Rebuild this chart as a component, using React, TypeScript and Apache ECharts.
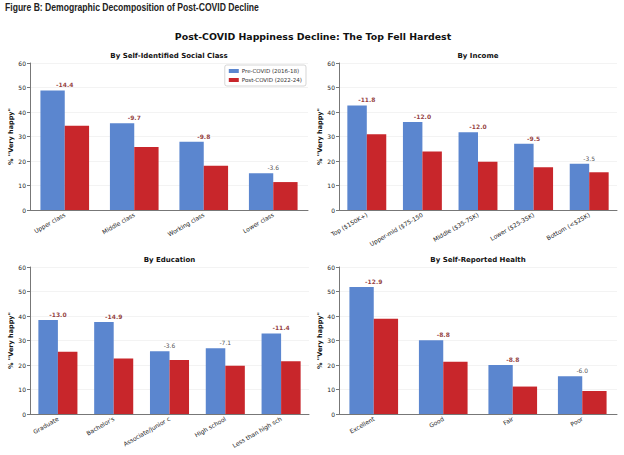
import React, { useEffect, useRef } from "react";
import * as echarts from "echarts";

const classCats = ["Upper class", "Middle class", "Working class", "Lower class"];
const classPre = [48.8, 35.4, 27.9, 15.0];
const classPost = [34.4, 25.7, 18.1, 11.4];
const classDiff = [-14.4, -9.7, -9.8, -3.6];

const incomeCats = ["Top ($150K+)", "Upper-mid ($75-150", "Middle ($35-75K)", "Lower ($25-35K)", "Bottom (<$25K)"];
const incomePre = [42.7, 35.9, 31.7, 27.0, 18.9];
const incomePost = [30.9, 23.9, 19.7, 17.5, 15.4];
const incomeDiff = [-11.8, -12.0, -12.0, -9.5, -3.5];

const eduCats = ["Graduate", "Bachelor's", "Associate/junior c", "High school", "Less than high sch"];
const eduPre = [38.4, 37.6, 25.6, 26.8, 32.9];
const eduPost = [25.4, 22.7, 22.0, 19.7, 21.5];
const eduDiff = [-13.0, -14.9, -3.6, -7.1, -11.4];

const healthCats = ["Excellent", "Good", "Fair", "Poor"];
const healthPre = [51.8, 30.1, 20.0, 15.4];
const healthPost = [38.9, 21.3, 11.2, 9.4];
const healthDiff = [-12.9, -8.8, -8.8, -6.0];

const yTicks = [0, 10, 20, 30, 40, 50, 60];

const PRE = "Pre-COVID (2016-18)";
const POST = "Post-COVID (2022-24)";
const BLUE = "#5B86CF";
const RED = "#C8262B";
const FONT = "DejaVu Sans";

const panels = [
  { title: "By Self-Identified Social Class", cats: classCats, pre: classPre, post: classPost, diff: classDiff, grid: { left: 30, top: 63, width: 278, height: 147 } },
  { title: "By Income", cats: incomeCats, pre: incomePre, post: incomePost, diff: incomeDiff, grid: { left: 339, top: 63, width: 278, height: 147 } },
  { title: "By Education", cats: eduCats, pre: eduPre, post: eduPost, diff: eduDiff, grid: { left: 30, top: 267, width: 279, height: 147 } },
  { title: "By Self-Reported Health", cats: healthCats, pre: healthPre, post: healthPost, diff: healthDiff, grid: { left: 339, top: 267, width: 278, height: 147 } },
];

export default function App() {
  const ref = useRef<HTMLDivElement>(null);
  useEffect(() => {
    if (!ref.current) return;
    const chart = echarts.init(ref.current, null, { renderer: "svg" });
    const grids: any[] = [];
    const xAxes: any[] = [];
    const yAxes: any[] = [];
    const series: any[] = [];
    const graphics: any[] = [
      {
        type: "text", x: 5, y: 8, scaleX: 0.86,
        style: { text: "Figure B: Demographic Decomposition of Post-COVID Decline", fontSize: 10, fontWeight: "bold", fontFamily: "Liberation Sans, sans-serif", fill: "#222", textAlign: "left", textVerticalAlign: "middle" },
      },
      {
        type: "text", x: 313, y: 36,
        style: { text: "Post-COVID Happiness Decline: The Top Fell Hardest", fontSize: 9.4, fontWeight: "bold", fontFamily: FONT, fill: "#111", textAlign: "center", textVerticalAlign: "middle" },
      },
    ];
    panels.forEach((p, i) => {
      grids.push({ ...p.grid, containLabel: false });
      graphics.push({
        type: "text", x: p.grid.left + p.grid.width / 2, y: p.grid.top - 7,
        style: { text: p.title, fontSize: 7, fontWeight: "bold", fontFamily: FONT, fill: "#111", textAlign: "center", textVerticalAlign: "middle" },
      });
      xAxes.push({
        type: "category", gridIndex: i, data: p.cats,
        axisLine: { lineStyle: { color: "#777", width: 1 } },
        axisTick: { alignWithLabel: true, length: 3, lineStyle: { color: "#777" } },
        axisLabel: { interval: 0, rotate: 30, fontSize: 6, fontFamily: FONT, color: "#222", margin: 4 },
      });
      yAxes.push({
        type: "value", gridIndex: i, min: 0, max: 60, interval: 10,
        name: '% "Very happy"', nameLocation: "middle", nameGap: 16, nameRotate: 90,
        nameTextStyle: { fontSize: 6.5, fontWeight: "bold", fontFamily: FONT, color: "#111" },
        axisLine: { show: true, lineStyle: { color: "#777", width: 1 } },
        axisTick: { show: true, length: 3, lineStyle: { color: "#777" } },
        axisLabel: { fontSize: 6, fontFamily: FONT, color: "#222", margin: 4, formatter: (v: number) => (yTicks.includes(v) ? String(v) : "") },
        splitLine: { show: true, lineStyle: { color: "#f0f0f0", width: 0.8 } },
      });
      series.push({
        name: PRE, type: "bar", xAxisIndex: i, yAxisIndex: i, data: p.pre,
        itemStyle: { color: BLUE }, barGap: "0%", barCategoryGap: "30%",
      });
      series.push({
        name: POST, type: "bar", xAxisIndex: i, yAxisIndex: i, data: p.post,
        itemStyle: { color: RED }, barGap: "0%", barCategoryGap: "30%",
      });
      series.push({
        name: "diff" + i, type: "scatter", xAxisIndex: i, yAxisIndex: i,
        data: p.pre.map((v, j) => ({
          value: Math.max(v, p.post[j]),
          label: {
            formatter: p.diff[j].toFixed(1),
            color: Math.abs(p.diff[j]) > 8 ? "#7A0A0A" : "#222",
            fontWeight: Math.abs(p.diff[j]) > 8 ? "bold" : "normal",
          },
        })),
        symbolSize: 1,
        itemStyle: { color: "rgba(0,0,0,0)" },
        label: { show: true, position: "top", distance: 2, fontSize: 6, fontFamily: FONT },
        silent: true,
        z: 5,
      });
    });
    chart.setOption({
      animation: false,
      backgroundColor: "#ffffff",
      textStyle: { fontFamily: FONT },
      grid: grids,
      xAxis: xAxes,
      yAxis: yAxes,
      series,
      legend: {
        data: [PRE, POST], orient: "vertical", right: 318, top: 65,
        itemWidth: 10, itemHeight: 4, itemGap: 3,
        padding: [3, 4, 3, 4], borderColor: "#ccc", borderWidth: 0.8, borderRadius: 2,
        backgroundColor: "#fff",
        textStyle: { fontSize: 5.5, fontFamily: FONT, color: "#333", padding: [0, 0, 0, -2] },
        icon: "rect",
      },
      graphic: graphics,
    });
    return () => chart.dispose();
  }, []);
  return <div ref={ref} style={{ position: "absolute", left: 0, top: 0, width: 624, height: 455 }} />;
}
